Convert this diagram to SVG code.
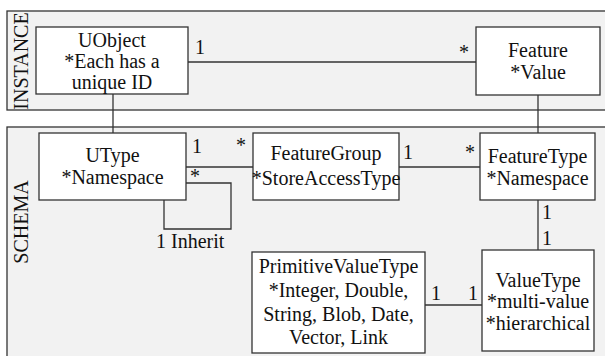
<svg xmlns="http://www.w3.org/2000/svg" width="605" height="356" viewBox="0 0 605 356" font-family="'Liberation Serif', 'Times New Roman', Times, serif" font-size="20">
  <style>
    text { font-family: "Liberation Serif", "Times New Roman", Times, serif; font-size: 20px; fill: #111; }
    .mid { text-anchor: middle; }
    .panel { fill: #f2f2f2; stroke: #333; stroke-width: 1.3; }
    .box { fill: #fff; stroke: #333; stroke-width: 1.3; }
    .conn { fill: none; stroke: #333; stroke-width: 1.3; }
  </style>

  <!-- swimlanes -->
  <g id="lane-instance">
    <rect class="panel" x="7" y="11" width="610" height="99"/>
    <text class="mid" transform="translate(28,61) rotate(-90)">INSTANCE</text>
  </g>
  <g id="lane-schema">
    <rect class="panel" x="7" y="127" width="610" height="240"/>
    <text class="mid" transform="translate(28,222) rotate(-90)">SCHEMA</text>
  </g>

  <!-- connectors and multiplicities -->
  <g id="connectors">
    <path class="conn" d="M188,62 H476"/>
    <text x="195" y="54">1</text>
    <text x="459" y="59">*</text>

    <path class="conn" d="M113,94 V133"/>
    <path class="conn" d="M538,95 V133"/>

    <path class="conn" d="M186,167 H253"/>
    <text x="192" y="153">1</text>
    <text x="236" y="152">*</text>

    <path class="conn" d="M186,183 H231 V229 H164 V200"/>
    <text x="190" y="183">*</text>
    <text x="156" y="248">1 Inherit</text>

    <path class="conn" d="M399,167 H480"/>
    <text x="403" y="159">1</text>
    <text x="465" y="159">*</text>

    <path class="conn" d="M538,200 V250"/>
    <text x="542" y="219">1</text>
    <text x="542" y="245">1</text>

    <path class="conn" d="M425,305 H482"/>
    <text x="431" y="300">1</text>
    <text x="468" y="300">1</text>
  </g>

  <g id="uobject">
    <rect class="box" x="36" y="27" width="152" height="67"/>
    <text class="mid" x="112" y="47">UObject</text>
    <text class="mid" x="112" y="68">*Each has a</text>
    <text class="mid" x="112" y="89">unique ID</text>
  </g>

  <g id="feature">
    <rect class="box" x="476" y="27" width="124" height="68"/>
    <text class="mid" x="538" y="57">Feature</text>
    <text class="mid" x="538" y="79">*Value</text>
  </g>

  <g id="utype">
    <rect class="box" x="39" y="133" width="147" height="67"/>
    <text class="mid" x="112.5" y="162">UType</text>
    <text class="mid" x="112.5" y="184">*Namespace</text>
  </g>

  <g id="featuregroup">
    <rect class="box" x="253" y="133" width="146" height="67"/>
    <text class="mid" x="326" y="160">FeatureGroup</text>
    <text class="mid" x="326" y="185">*StoreAccessType</text>
  </g>

  <g id="featuretype">
    <rect class="box" x="480" y="133" width="115" height="67"/>
    <text class="mid" x="537.5" y="163">FeatureType</text>
    <text class="mid" x="537.5" y="185">*Namespace</text>
  </g>

  <g id="primitivevaluetype">
    <rect class="box" x="252" y="252" width="173" height="101"/>
    <text class="mid" x="338.5" y="273">PrimitiveValueType</text>
    <text class="mid" x="338.5" y="297">*Integer, Double,</text>
    <text class="mid" x="338.5" y="321">String, Blob, Date,</text>
    <text class="mid" x="338.5" y="344">Vector, Link</text>
  </g>

  <g id="valuetype">
    <rect class="box" x="482" y="250" width="112" height="101"/>
    <text class="mid" x="538" y="287">ValueType</text>
    <text class="mid" x="538" y="308">*multi-value</text>
    <text class="mid" x="538" y="330">*hierarchical</text>
  </g>
</svg>
